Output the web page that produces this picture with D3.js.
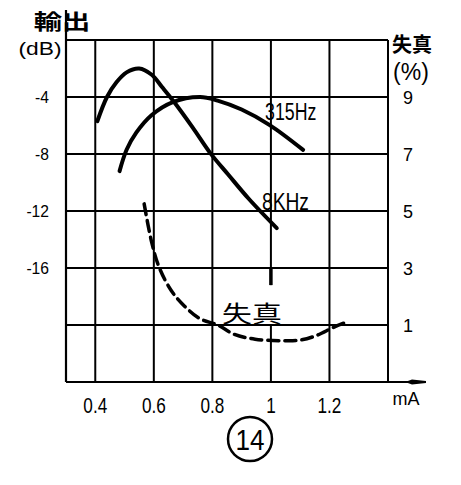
<!DOCTYPE html>
<html><head><meta charset="utf-8">
<script src="https://cdn.jsdelivr.net/npm/d3@7"></script>
<style>body{margin:0;background:#fff} svg{display:block}</style>
</head><body><svg id="c" width="461" height="485"></svg>
<script>
// ---- data ----
const xTicks = [0.4, 0.6, 0.8, 1.0, 1.2, 1.4];
const xTickLabels = ["0.4", "0.6", "0.8", "1", "1.2", ""];
const dbTicks = [0, -4, -8, -12, -16, -20, -24];
const dbTickLabels = ["", "-4", "-8", "-12", "-16", "", ""];
const distTicks = [9, 7, 5, 3, 1];
const distTickLabels = ["9", "7", "5", "3", "1"];

// output (dB) vs current (mA), 8 kHz
const current8k = [0.407, 0.44, 0.473, 0.507, 0.55, 0.593, 0.628, 0.67, 0.733, 0.793, 0.854, 0.925, 1.02];
const output8k  = [-5.7, -4.0, -2.95, -2.27, -2.0, -2.44, -3.3, -4.37, -6.15, -7.94, -9.44, -11.16, -13.2];
// output (dB) vs current (mA), 315 Hz
const current315 = [0.483, 0.507, 0.54, 0.593, 0.663, 0.758, 0.818, 0.9, 0.996, 1.11];
const output315  = [-9.2, -7.7, -6.5, -5.26, -4.37, -4.0, -4.25, -4.88, -5.97, -7.71];
// distortion (%) vs current (mA)
const currentDist = [0.567, 0.593, 0.618, 0.66, 0.705, 0.758, 0.818, 0.875, 0.946, 1.032, 1.1, 1.155, 1.214, 1.255];
const distortion  = [5.25, 3.89, 3.03, 2.2, 1.66, 1.22, 1.0, 0.67, 0.5, 0.45, 0.47, 0.63, 0.92, 1.09];

// ---- drawing ----
const svg = d3.select("#c");
svg.append("rect").attr("width", 461).attr("height", 485).attr("fill", "#fff");

const x = d3.scaleLinear().domain([0.3, 1.4]).range([66, 388]);
const y = d3.scaleLinear().domain([0, -24]).range([40, 382]);
const yd = d3.scaleLinear().domain([11, -1]).range([40, 382]);

const latin = "'Liberation Sans',Arial,sans-serif";
const cjk = "'Noto Sans CJK JP','Noto Sans CJK SC',sans-serif";

const g = svg.append("g");

// horizontal grid
g.selectAll("line.h").data(dbTicks).join("line")
  .attr("x1", x(0.3)).attr("x2", x(1.4))
  .attr("y1", d => y(d)).attr("y2", d => y(d))
  .attr("stroke", "#000").attr("stroke-width", 2);

// vertical grid (1.0 line broken as in the reference)
g.selectAll("line.v").data(xTicks.filter(d => d !== 1.0)).join("line")
  .attr("x1", d => x(d)).attr("x2", d => x(d))
  .attr("y1", y(0)).attr("y2", y(-24))
  .attr("stroke", "#000").attr("stroke-width", 2);
g.append("line").attr("x1", x(1.0)).attr("x2", x(1.0)).attr("y1", y(0)).attr("y2", y(-17.2))
  .attr("stroke", "#000").attr("stroke-width", 2);
g.append("line").attr("x1", x(1.0)).attr("x2", x(1.0)).attr("y1", y(-16)).attr("y2", y(-17.2))
  .attr("stroke", "#000").attr("stroke-width", 3.5);
g.append("line").attr("x1", x(1.0)).attr("x2", x(1.0)).attr("y1", y(-20)).attr("y2", y(-24))
  .attr("stroke", "#000").attr("stroke-width", 2);

// left axis (extends upward) and bottom axis (extends right with arrow)
g.append("line").attr("x1", x(0.3)).attr("x2", x(0.3)).attr("y1", 10).attr("y2", y(-24))
  .attr("stroke", "#000").attr("stroke-width", 2.2);
g.append("line").attr("x1", x(0.3)).attr("x2", 425).attr("y1", y(-24)).attr("y2", y(-24))
  .attr("stroke", "#000").attr("stroke-width", 2.2);
g.append("path").attr("d", `M405,${y(-24)} L412,${y(-24)-2.5} L426,${y(-24)-1} L426,${y(-24)+1} L412,${y(-24)+2.5} Z`)
  .attr("fill", "#000");

// curves
const lineDb = d3.line().x(d => x(d[0])).y(d => y(d[1])).curve(d3.curveCatmullRom.alpha(0.5));
const lineD = d3.line().x(d => x(d[0])).y(d => yd(d[1])).curve(d3.curveCatmullRom.alpha(0.5));

g.append("path").attr("d", lineDb(d3.zip(current8k, output8k)))
  .attr("fill", "none").attr("stroke", "#000").attr("stroke-width", 4).attr("stroke-linecap", "round");
g.append("path").attr("d", lineDb(d3.zip(current315, output315)))
  .attr("fill", "none").attr("stroke", "#000").attr("stroke-width", 4).attr("stroke-linecap", "round");
g.append("path").attr("d", lineD(d3.zip(currentDist, distortion)))
  .attr("fill", "none").attr("stroke", "#000").attr("stroke-width", 3.5)
  .attr("stroke-dasharray", "11,6").attr("stroke-linecap", "round");

// helper: horizontally condensed text
function label(px, py, s, size, sx, anchor, family, weight) {
  return svg.append("text")
    .attr("transform", `translate(${px},${py}) scale(${sx},1)`)
    .attr("text-anchor", anchor || "start")
    .attr("font-family", family || latin)
    .attr("font-weight", weight || "normal")
    .attr("font-size", size).text(s);
}

// tick labels
svg.selectAll("text.l").data(dbTicks).join("text")
  .attr("transform", d => `translate(49,${y(d) + 6}) scale(0.92,1)`)
  .attr("text-anchor", "end").attr("font-family", latin).attr("font-size", 17)
  .text((d, i) => dbTickLabels[i]);

svg.selectAll("text.r").data(distTicks).join("text")
  .attr("transform", d => `translate(408,${yd(d) + 6.5}) scale(1,1)`)
  .attr("text-anchor", "middle").attr("font-family", latin).attr("font-size", 18)
  .text((d, i) => distTickLabels[i]);

svg.selectAll("text.b").data(xTicks).join("text")
  .attr("transform", d => `translate(${x(d)},413) scale(0.78,1)`)
  .attr("text-anchor", "middle").attr("font-family", latin).attr("font-size", 22)
  .text((d, i) => xTickLabels[i]);

label(406, 405, "mA", 18, 1, "middle");

// axis titles
label(62, 29, "輸出", 21, 1.35, "middle", cjk, "bold");
label(40, 55, "(dB)", 19, 1.2, "middle");
label(412, 52, "失真", 20, 1, "middle", cjk, "bold");
label(411, 80, "(%)", 23, 1, "middle");

// series labels
label(265, 120, "315Hz", 24, 0.74, "start");
label(262, 210, "8KHz", 24, 0.8, "start");
label(252, 322, "失真", 23, 1.3, "middle", cjk);

// figure number
svg.append("circle").attr("cx", 250).attr("cy", 439).attr("r", 22)
  .attr("fill", "none").attr("stroke", "#000").attr("stroke-width", 2.5);
label(250, 450, "14", 29, 0.9, "middle");
</script></body></html>
